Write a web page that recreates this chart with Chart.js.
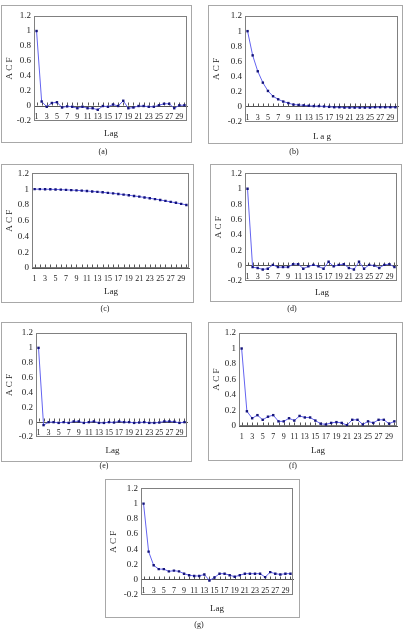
<!DOCTYPE html>
<html>
<head>
<meta charset="utf-8">
<script src="https://cdn.jsdelivr.net/npm/chart.js@4.4.1/dist/chart.umd.min.js"></script>
<style>
body { margin: 0; background: #fff; font-family: "Liberation Serif", "DejaVu Serif", serif; }
.box { position: absolute; border: 1px solid #a8a8a8; box-sizing: border-box; }
.box canvas { position: absolute; left: 0; top: 0; }
.txt { position: absolute; color: #222; transform: translate(-50%, -50%); white-space: nowrap; line-height: 1; }
</style>
</head>
<body>
<script>
// lags and the odd ones that get a label
var lags = [1,2,3,4,5,6,7,8,9,10,11,12,13,14,15,16,17,18,19,20,21,22,23,24,25,26,27,28,29,30];
var lagLabels = [1,3,5,7,9,11,13,15,17,19,21,23,25,27,29];

// ACF values
var acfA = [1.00,0.06,-0.01,0.04,0.05,-0.02,-0.005,-0.01,-0.03,-0.01,-0.03,-0.03,-0.05,0.00,-0.01,0.02,0.00,0.07,-0.03,-0.02,0.00,0.00,-0.01,-0.01,0.01,0.03,0.03,-0.03,0.01,0.01];
var acfB = [1.00,0.68,0.47,0.32,0.21,0.14,0.10,0.07,0.05,0.03,0.025,0.02,0.015,0.01,0.01,0.005,0.00,-0.005,-0.005,-0.01,-0.01,-0.01,-0.01,-0.01,-0.01,-0.005,-0.005,-0.005,-0.005,-0.005];
var acfC = [1.000,1.000,0.999,0.998,0.996,0.994,0.991,0.988,0.985,0.981,0.976,0.971,0.966,0.960,0.953,0.947,0.939,0.931,0.923,0.914,0.905,0.895,0.885,0.874,0.863,0.851,0.839,0.827,0.814,0.800];
var acfD = [1.00,-0.02,-0.03,-0.05,-0.04,0.01,-0.02,-0.02,-0.02,0.02,0.02,-0.04,-0.01,0.01,-0.01,-0.04,0.05,-0.01,0.01,0.02,-0.03,-0.05,0.05,-0.04,0.01,0.00,-0.03,0.01,0.02,-0.02];
var acfE = [1.00,-0.04,0.00,0.00,-0.01,0.00,-0.01,0.01,0.01,-0.01,0.00,0.01,-0.01,-0.01,0.00,-0.005,0.01,0.00,0.00,-0.01,-0.005,0.00,-0.01,-0.01,-0.005,0.01,0.01,0.005,-0.01,0.00];
var acfF = [1.00,0.19,0.10,0.14,0.08,0.12,0.14,0.06,0.06,0.10,0.07,0.13,0.11,0.11,0.07,0.03,0.02,0.04,0.05,0.04,0.01,0.08,0.08,0.02,0.06,0.04,0.08,0.08,0.03,0.06];
var acfG = [1.00,0.37,0.19,0.14,0.14,0.11,0.12,0.11,0.08,0.06,0.05,0.05,0.07,-0.01,0.03,0.08,0.08,0.06,0.04,0.06,0.08,0.08,0.08,0.08,0.035,0.10,0.08,0.07,0.08,0.08];

var serif = '"Liberation Serif", "DejaVu Serif", serif';

// where each panel sits on the page
var panels = [
  {data: acfA, min: -0.2, cap: '(a)', box: [1, 5, 191, 138],   plot: [34, 16, 188, 121],   lagY: 133, capX: 103, capY: 152, lag: 'Lag'},
  {data: acfB, min: -0.2, cap: '(b)', box: [208, 5, 195, 139], plot: [245, 16, 399, 122],  lagY: 136, capX: 294, capY: 152, lag: 'L a g'},
  {data: acfC, min: 0,    cap: '(c)', box: [1, 164, 193, 139], plot: [32, 172, 190, 268],  lagY: 291, capX: 105, capY: 309, lag: 'Lag'},
  {data: acfD, min: -0.2, cap: '(d)', box: [210, 164, 192, 138], plot: [245, 173, 399, 281], lagY: 292, capX: 292, capY: 309, lag: 'Lag'},
  {data: acfE, min: -0.2, cap: '(e)', box: [1, 322, 191, 140], plot: [36, 333, 189, 437],  lagY: 450, capX: 104, capY: 466, lag: 'Lag'},
  {data: acfF, min: 0,    cap: '(f)', box: [208, 322, 195, 139], plot: [239, 333, 397, 426], lagY: 450, capX: 293, capY: 466, lag: 'Lag'},
  {data: acfG, min: -0.2, cap: '(g)', box: [105, 479, 195, 139], plot: [141, 487, 293, 595], lagY: 608, capX: 199, capY: 625, lag: 'Lag'}
];

// plot frame plus the little upward ticks on the zero line
var frame = {
  id: 'frame',
  beforeDatasetsDraw: function(chart) {
    var ctx = chart.ctx, a = chart.chartArea;
    var xs = chart.scales.x, ys = chart.scales.y;
    ctx.save();
    ctx.strokeStyle = '#808080';
    ctx.lineWidth = 1;
    ctx.strokeRect(Math.round(a.left) + 0.5, Math.round(a.top) + 0.5,
      Math.round(a.right - a.left) - 1, Math.round(a.bottom - a.top) - 1);
    var y0 = Math.round(ys.getPixelForValue(0)) - 0.5;
    ctx.strokeStyle = '#555';
    ctx.beginPath();
    for (var i = 0; i < lags.length; i++) {
      var x = Math.round(xs.getPixelForValue(i)) + 0.5;
      ctx.moveTo(x, y0);
      ctx.lineTo(x, y0 - 3);
    }
    ctx.stroke();
    ctx.restore();
  }
};

function addText(txt, x, y, size) {
  var d = document.createElement('div');
  d.className = 'txt';
  d.style.left = x + 'px';
  d.style.top = y + 'px';
  d.style.fontSize = size + 'px';
  d.textContent = txt;
  document.body.appendChild(d);
}

panels.forEach(function(p) {
  var bx = p.box[0], by = p.box[1], bw = p.box[2], bh = p.box[3];
  var cw = bw - 2, ch = bh - 2;
  var ox = bx + 1, oy = by + 1;

  var box = document.createElement('div');
  box.className = 'box';
  box.style.left = bx + 'px';
  box.style.top = by + 'px';
  box.style.width = bw + 'px';
  box.style.height = bh + 'px';
  var cv = document.createElement('canvas');
  cv.width = cw;
  cv.height = ch;
  cv.style.width = cw + 'px';
  cv.style.height = ch + 'px';
  box.appendChild(cv);
  document.body.appendChild(box);

  var yWidth = p.plot[0] - ox;

  new Chart(cv.getContext('2d'), {
    type: 'line',
    data: {
      labels: lags,
      datasets: [{
        data: p.data,
        borderColor: '#6464f0',
        borderWidth: 1,
        tension: 0,
        pointStyle: 'rect',
        pointRadius: 1.7,
        pointBorderWidth: 0,
        pointBackgroundColor: '#14147a',
        pointBorderColor: '#14147a'
      }]
    },
    options: {
      responsive: false,
      animation: false,
      devicePixelRatio: 1,
      layout: {
        padding: {
          left: 0,
          top: p.plot[1] - oy,
          right: ox + cw - p.plot[2],
          bottom: oy + ch - p.plot[3]
        }
      },
      plugins: {
        legend: { display: false },
        tooltip: { enabled: false }
      },
      scales: {
        x: {
          type: 'category',
          offset: true,
          position: { y: 0 },
          grid: { display: false, drawTicks: false },
          border: { display: true, color: '#555', width: 1 },
          ticks: {
            autoSkip: false,
            maxRotation: 0,
            padding: 6,
            color: '#222',
            font: { family: serif, size: 8 },
            callback: function(v, i) {
              return lagLabels.indexOf(lags[i]) >= 0 ? String(lags[i]) : '';
            }
          }
        },
        y: {
          min: p.min,
          max: 1.2,
          grid: { display: false, drawTicks: false },
          border: { display: false },
          ticks: {
            stepSize: 0.2,
            padding: 3,
            color: '#222',
            font: { family: serif, size: 9 },
            callback: function(v) {
              var r = Math.round(v * 10) / 10;
              if (r === 0) r = 0;
              return String(r);
            }
          },
          title: {
            display: true,
            text: 'A C F',
            color: '#222',
            font: { family: serif, size: 9 },
            padding: { top: 2, bottom: 0 }
          },
          afterFit: function(s) { s.width = yWidth; }
        }
      }
    },
    plugins: [frame]
  });

  addText(p.lag, (p.plot[0] + p.plot[2]) / 2, p.lagY, 9);
  addText(p.cap, p.capX, p.capY, 8);
});
</script>
</body>
</html>
